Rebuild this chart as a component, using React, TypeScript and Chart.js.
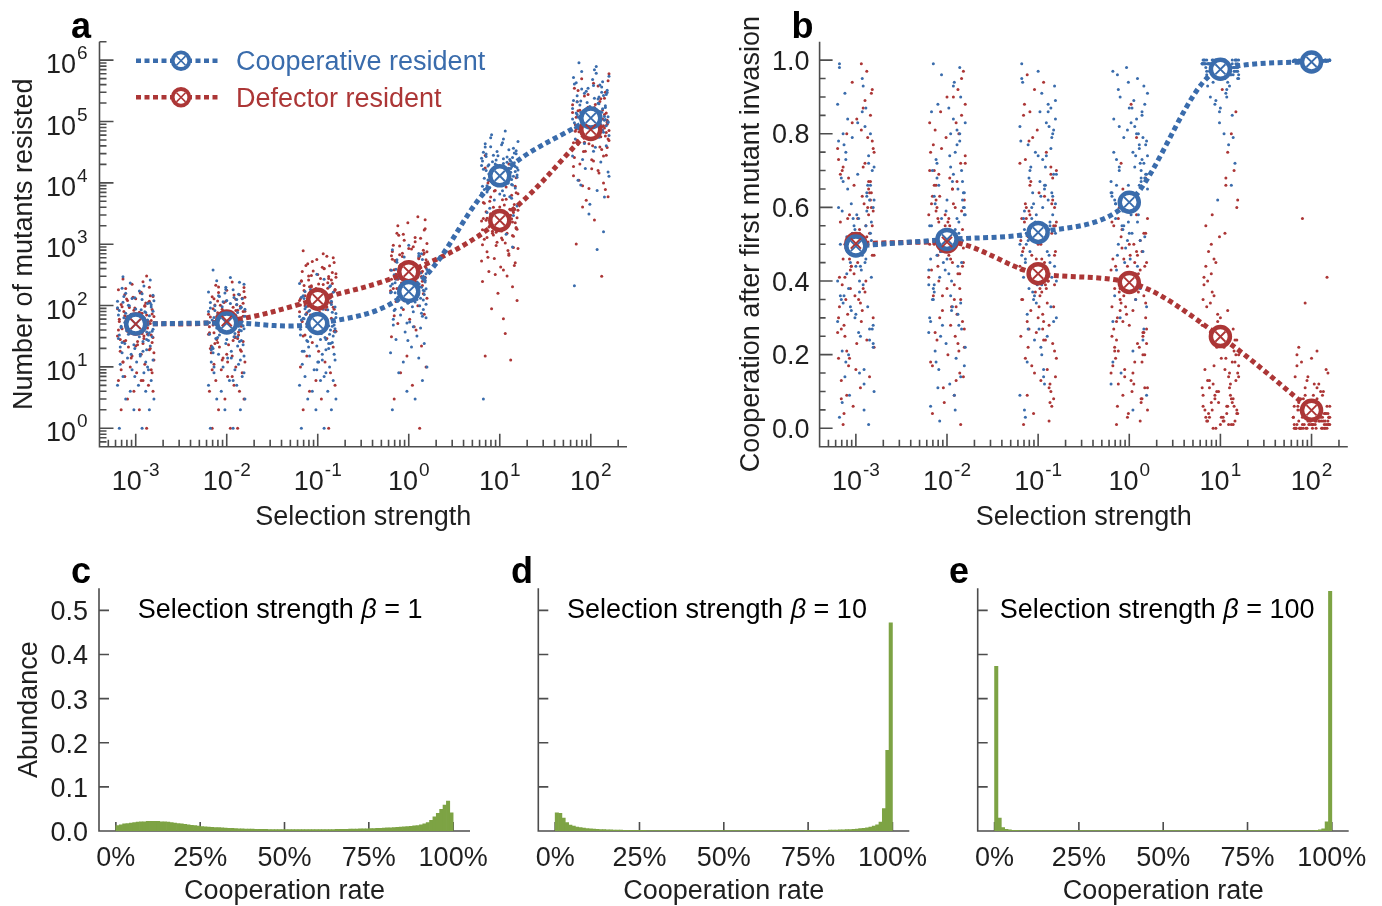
import React, { useEffect, useRef } from 'react';
import { Chart, registerables } from 'chart.js';

Chart.register(...registerables);

const FONT = '"Liberation Sans", Arial, Helvetica, sans-serif';
const BLUE = 'rgb(58,108,172)';
const RED = 'rgb(172,54,54)';
const GREEN = 'rgb(125,163,68)';
const AXIS = '#4d4d4d';
const INK = '#1f1f1f';
const W = 1382;
const H = 906;

// ---------------- data ----------------
const BETA = [0.001, 0.01, 0.1, 1, 10, 100];
const BETA_EXP = ['-3', '-2', '-1', '0', '1', '2'];
const LEGEND_LABELS = ['Cooperative resident', 'Defector resident'];
const A_Y_VALUES = [1, 10, 100, 1000, 10000, 100000, 1000000];
const A_Y_EXP = ['0', '1', '2', '3', '4', '5', '6'];
const B_Y_TICKS = [0, 0.2, 0.4, 0.6, 0.8, 1.0];
const HIST_X_TICKS = [0, 25, 50, 75, 100];
const HIST_Y_TICKS = [0, 0.1, 0.2, 0.3, 0.4, 0.5];
const HIST_BETA = ['1', '10', '100'];

// panel a: mean number of mutants resisted
const A_COOP_MEAN = [50, 52, 51, 169, 13000, 114000];
const A_DEF_MEAN = [50, 56, 127, 357, 2440, 74000];
// panel b: mean cooperation after first mutant invasion
const B_COOP_MEAN = [0.495, 0.513, 0.532, 0.614, 0.975, 0.995];
const B_DEF_MEAN = [0.502, 0.506, 0.42, 0.396, 0.249, 0.049];

// horizontal jitter of the individual runs (decades)
const JIT_COOP = [-0.18, 0.07, -0.02, 0.15, -0.11, 0.2, -0.06, 0.11, -0.2, 0.03, 0.17, -0.14, 0.09, -0.04, 0.13, -0.17, 0.01, 0.19, -0.09, 0.05, -0.15, 0.12, -0.01, 0.16, -0.12, 0.08, -0.19, 0.04, 0.14, -0.07, 0.18, -0.03, 0.1, -0.16, 0.02, 0.2, -0.1, 0.06, -0.13, 0.15, -0.05, 0.11, -0.18, 0.0, 0.17, -0.08, 0.13, -0.2, 0.07, -0.01, 0.19, -0.11, 0.04, -0.15, 0.09, -0.06, 0.16, -0.14, 0.12, -0.03,
  0.05, -0.17, 0.14, -0.08, 0.19, -0.12, 0.02, 0.1, -0.2, 0.16, -0.04, 0.08, -0.15, 0.18, -0.1, 0.03, 0.13, -0.19, 0.06, -0.07, 0.2, -0.13, 0.11, -0.02, 0.15, -0.16, 0.0, 0.09, -0.11, 0.17, -0.05, 0.12, -0.18, 0.04, -0.09, 0.19, -0.14, 0.07, -0.01, 0.14];
const JIT_DEF = [0.12, -0.16, 0.04, -0.09, 0.19, -0.02, 0.14, -0.19, 0.08, -0.12, 0.01, 0.17, -0.06, 0.1, -0.14, 0.2, -0.04, 0.06, -0.17, 0.15, -0.08, 0.02, 0.18, -0.11, 0.09, -0.2, 0.13, -0.03, 0.05, -0.15, 0.11, -0.07, 0.16, -0.18, 0.03, -0.1, 0.2, -0.05, 0.07, -0.13, 0.18, -0.01, 0.1, -0.16, 0.14, -0.09, 0.0, 0.19, -0.12, 0.06, -0.19, 0.15, -0.04, 0.08, -0.14, 0.12, -0.07, 0.17, -0.1, 0.02,
  -0.05, 0.16, -0.13, 0.09, -0.19, 0.03, 0.14, -0.08, 0.18, -0.02, -0.15, 0.11, -0.1, 0.2, 0.0, -0.17, 0.07, 0.13, -0.06, 0.17, -0.12, 0.04, -0.2, 0.1, 0.15, -0.03, -0.14, 0.08, 0.19, -0.09, 0.01, -0.18, 0.12, -0.07, 0.16, 0.05, -0.11, 0.18, -0.16, 0.06];

// panel a: individual runs, cooperative resident (one list per selection strength)
const A_COOP_RUNS: number[][] = [
  [1, 1, 2, 2, 3, 3, 4, 4, 5, 5, 6, 7, 8, 9, 10, 11, 12, 13, 14, 16, 17, 19, 20, 22, 24, 26, 29, 31, 33, 35, 38, 41, 43, 46, 49, 52, 56, 60, 63, 68, 72, 77, 83, 88, 95, 101, 108, 117, 125, 134, 147, 158, 173, 192, 208, 233, 262, 295, 37, 47,
    15, 21, 27, 34, 41, 53, 66, 79, 92, 110, 130, 18, 25, 31, 39, 45, 58, 70, 85, 99, 120, 140, 12, 23, 36, 44, 51, 62, 75, 103, 16, 28, 33, 57, 67, 81, 113, 155, 7, 9],
  [1, 1, 2, 2, 3, 3, 4, 5, 5, 6, 7, 8, 9, 10, 11, 12, 14, 15, 16, 18, 20, 22, 24, 27, 29, 31, 34, 37, 40, 44, 47, 51, 54, 58, 63, 67, 71, 78, 83, 90, 96, 104, 112, 121, 129, 141, 153, 166, 181, 198, 222, 254, 287, 378, 45, 56, 39, 64, 31, 74,
    14, 19, 26, 33, 42, 49, 57, 69, 80, 94, 115, 135, 17, 23, 30, 38, 46, 53, 61, 73, 87, 99, 125, 160, 13, 21, 28, 35, 43, 55, 65, 77, 91, 108, 145, 8, 10, 6, 185, 240],
  [1, 1, 2, 2, 3, 3, 4, 4, 5, 6, 6, 7, 8, 9, 10, 11, 12, 13, 15, 16, 18, 20, 22, 25, 27, 30, 33, 36, 40, 43, 48, 53, 57, 62, 67, 74, 81, 87, 96, 104, 114, 126, 137, 151, 164, 182, 203, 228, 268, 325, 42, 54, 35, 61, 28, 71, 46, 89, 24, 118,
    13, 18, 24, 31, 37, 45, 52, 59, 66, 78, 92, 108, 130, 16, 21, 28, 34, 41, 50, 56, 64, 72, 85, 99, 118, 145, 12, 19, 26, 32, 39, 47, 58, 69, 83, 95, 170, 7, 9, 210],
  [2, 3, 4, 6, 8, 10, 12, 14, 17, 21, 24, 28, 32, 37, 43, 48, 54, 63, 70, 79, 87, 99, 109, 123, 136, 148, 166, 181, 198, 221, 243, 264, 292, 318, 352, 387, 418, 463, 508, 564, 618, 703, 812, 960, 152, 174, 131, 208, 114, 252, 188, 302, 96, 161, 139, 229, 86, 268, 347, 121,
    45, 60, 75, 92, 105, 118, 133, 147, 162, 178, 195, 214, 236, 258, 285, 310, 340, 375, 410, 450, 500, 560, 640, 52, 67, 83, 112, 126, 157, 172, 186, 203, 224, 247, 276, 330, 390, 470, 27, 700],
  [3, 1450, 2250, 2950, 3850, 4450, 5250, 5950, 6850, 7450, 8250, 8950, 9850, 10400, 11300, 11900, 12900, 13400, 14400, 15100, 15900, 17100, 17900, 19200, 19800, 21600, 22800, 24700, 25800, 28200, 29700, 32300, 34800, 38400, 41700, 47300, 54600, 69800, 11100, 12800, 14200, 12400, 16600, 10100, 18400, 22100, 9400, 25200, 15400, 12100, 17600, 8400, 20600, 26800, 13700, 11900, 30800, 7100, 14900, 19400,
    6200, 7800, 9200, 10800, 12300, 13900, 15600, 17300, 19100, 21200, 23500, 26300, 29400, 33500, 38800, 45000, 5600, 8800, 11600, 14700, 16200, 18800, 24100, 27600, 36500, 43500, 6600, 10200, 12700, 15300, 20200, 22600, 31500, 52000, 61000, 4200, 3300, 2600, 1900, 900],
  [210, 820, 3100, 5900, 9200, 12800, 17200, 21800, 27300, 32700, 40400, 46600, 55400, 62700, 72400, 79600, 90500, 99400, 110500, 119600, 130700, 141500, 155800, 169400, 185600, 199300, 221000, 238500, 266000, 288500, 322000, 348000, 392000, 428000, 483000, 547000, 655000, 792000, 905000, 104500, 115800, 124300, 95600, 135400, 85300, 149200, 160800, 109600, 98400, 175600, 119400, 140700, 70200, 209500, 251000, 129300, 107800, 118600, 301000, 60400,
    38000, 52000, 67000, 83000, 96000, 112000, 127000, 145000, 163000, 181000, 205000, 232000, 262000, 297000, 340000, 385000, 445000, 520000, 610000, 44000, 59000, 76000, 89000, 104000, 121000, 138000, 156000, 194000, 215000, 275000, 312000, 365000, 410000, 700000, 24000, 15000, 11000, 7500, 4500, 1600],
];
// panel a: individual runs, defector resident
const A_DEF_RUNS: number[][] = [
  [1, 2, 2, 3, 4, 4, 5, 6, 6, 7, 8, 9, 10, 11, 12, 13, 15, 16, 18, 19, 21, 23, 25, 27, 29, 32, 34, 37, 39, 42, 45, 48, 51, 55, 58, 62, 66, 71, 75, 80, 86, 91, 97, 104, 112, 121, 129, 141, 151, 164, 181, 199, 222, 244, 271, 302, 44, 33, 61, 26,
    14, 20, 26, 32, 40, 47, 55, 63, 73, 84, 96, 110, 128, 17, 22, 28, 35, 43, 50, 57, 68, 78, 89, 100, 117, 136, 12, 24, 30, 38, 53, 60, 70, 93, 145, 160, 190, 8, 9, 6],
  [1, 1, 1, 2, 3, 3, 4, 4, 5, 6, 7, 8, 9, 10, 11, 12, 14, 15, 17, 19, 21, 23, 26, 28, 31, 34, 37, 41, 44, 48, 52, 56, 61, 65, 70, 76, 81, 87, 94, 102, 109, 118, 127, 139, 150, 163, 177, 196, 214, 242, 45, 58, 69, 52, 36, 84, 101, 131, 25, 62,
    13, 18, 24, 30, 36, 43, 50, 58, 67, 77, 89, 103, 119, 137, 16, 22, 27, 33, 40, 47, 55, 63, 72, 83, 97, 112, 129, 148, 170, 200, 12, 20, 29, 38, 46, 54, 66, 80, 9, 7],
  [1, 2, 3, 4, 5, 6, 8, 10, 12, 15, 18, 21, 25, 29, 33, 38, 43, 49, 55, 62, 70, 78, 87, 97, 108, 121, 132, 146, 159, 176, 191, 211, 229, 253, 275, 302, 331, 364, 402, 448, 503, 562, 638, 781, 111, 141, 89, 179, 76, 221, 129, 262, 66, 154, 99, 298, 201, 94, 119, 171,
    45, 58, 72, 86, 102, 118, 135, 152, 170, 190, 212, 236, 262, 290, 322, 358, 398, 445, 520, 600, 50, 65, 79, 95, 112, 128, 145, 162, 182, 202, 225, 248, 277, 310, 345, 420, 480, 38, 32, 700],
  [1, 3, 5, 8, 10, 15, 22, 31, 40, 51, 60, 72, 86, 99, 116, 131, 149, 171, 189, 212, 234, 261, 289, 322, 348, 381, 414, 452, 489, 532, 578, 633, 688, 762, 838, 934, 1030, 1160, 1290, 1510, 1790, 2230, 2790, 382, 298, 452, 331, 558, 268, 423, 648, 362, 478, 241, 521, 402, 309, 718, 441, 339,
    120, 155, 190, 228, 268, 305, 345, 390, 435, 485, 540, 600, 670, 750, 850, 960, 1100, 1250, 1450, 1700, 2000, 140, 175, 210, 248, 287, 325, 368, 412, 462, 512, 570, 635, 710, 800, 905, 1400, 2500, 68, 45],
  [13, 15, 61, 89, 121, 158, 203, 247, 302, 358, 423, 497, 582, 658, 752, 848, 953, 1048, 1205, 1345, 1502, 1648, 1805, 1995, 2204, 2395, 2610, 2845, 3105, 3390, 3710, 3990, 4420, 4790, 5310, 5880, 6620, 7480, 8520, 9950, 12100, 14900, 20300, 27800, 2310, 2490, 2110, 2690, 1910, 2880, 1720, 3290, 1560, 2440, 2660, 3610, 1410, 2240, 3010, 1260,
    320, 450, 610, 790, 980, 1180, 1390, 1620, 1880, 2150, 2450, 2780, 3150, 3560, 4050, 4650, 5400, 6300, 7400, 8800, 10800, 380, 530, 700, 880, 1080, 1290, 1510, 1750, 2010, 2300, 2620, 2960, 3350, 3800, 4350, 5000, 6900, 17500, 35],
  [300, 1010, 2480, 4050, 5950, 8100, 9900, 13100, 15900, 20200, 23800, 28300, 32800, 38300, 42700, 49200, 54800, 62300, 69700, 78400, 85800, 95300, 104700, 115400, 124600, 140300, 154700, 170400, 189600, 210400, 234600, 260300, 301000, 349000, 421000, 498000, 603000, 72300, 79800, 68400, 90300, 60200, 100400, 74700, 85200, 64800, 110300, 51900, 120400, 94800, 45200, 130200, 57900, 77800, 150300, 82400, 70100, 66200, 88300, 40300,
    5200, 7800, 11000, 14500, 18500, 22800, 27500, 32400, 37600, 43200, 49500, 56200, 63400, 71200, 79500, 88600, 98700, 110000, 123000, 137000, 152000, 169000, 188000, 211000, 240000, 275000, 320000, 380000, 460000, 9000, 17000, 26000, 35000, 46000, 58000, 69500, 82000, 97000, 117000, 145000],
];
// panel b: individual runs, cooperative resident
const B_COOP_RUNS: number[][] = [
  [0.03, 0.95, 0.47, 0.62, 0.18, 0.71, 0.33, 0.55, 0.88, 0.26, 0.41, 0.67, 0.12, 0.79, 0.5, 0.36, 0.58, 0.22, 0.84, 0.44, 0.07, 0.64, 0.3, 0.53, 0.91, 0.39, 0.6, 0.15, 0.74, 0.48, 0.27, 0.57, 0.82, 0.35, 0.69, 0.1, 0.52, 0.43, 0.77, 0.24, 0.61, 0.46, 0.98, 0.31, 0.56, 0.2, 0.66, 0.4, 0.86, 0.49, 0.28, 0.73, 0.37, 0.59, 0.05, 0.45, 0.8, 0.34, 0.63, 0.51,
    0.25, 0.5, 0.72, 0.38, 0.6, 0.14, 0.83, 0.45, 0.29, 0.66, 0.53, 0.93, 0.21, 0.7, 0.42, 0.57, 0.33, 0.78, 0.48, 0.09, 0.62, 0.36, 0.87, 0.55, 0.27, 0.68, 0.44, 0.16, 0.75, 0.51, 0.32, 0.59, 0.99, 0.4, 0.65, 0.23, 0.8, 0.47, 0.54, 0.01],
  [0.06, 0.93, 0.51, 0.34, 0.68, 0.22, 0.57, 0.81, 0.43, 0.12, 0.62, 0.37, 0.75, 0.48, 0.28, 0.86, 0.53, 0.17, 0.66, 0.4, 0.99, 0.31, 0.59, 0.45, 0.73, 0.09, 0.55, 0.36, 0.8, 0.25, 0.64, 0.49, 0.19, 0.7, 0.42, 0.58, 0.88, 0.33, 0.61, 0.14, 0.52, 0.77, 0.29, 0.46, 0.67, 0.02, 0.56, 0.39, 0.84, 0.23, 0.6, 0.47, 0.71, 0.35, 0.54, 0.96, 0.27, 0.63, 0.44, 0.5,
    0.32, 0.55, 0.78, 0.41, 0.64, 0.18, 0.87, 0.5, 0.26, 0.7, 0.45, 0.94, 0.38, 0.6, 0.11, 0.74, 0.53, 0.3, 0.67, 0.48, 0.83, 0.21, 0.57, 0.43, 0.9, 0.35, 0.62, 0.05, 0.72, 0.51, 0.28, 0.65, 0.46, 0.8, 0.16, 0.58, 0.39, 0.69, 0.52, 0.98],
  [0.99, 0.12, 0.58, 0.41, 0.77, 0.3, 0.64, 0.88, 0.5, 0.22, 0.69, 0.45, 0.83, 0.36, 0.56, 0.94, 0.27, 0.61, 0.48, 0.73, 0.05, 0.54, 0.39, 0.8, 0.18, 0.66, 0.52, 0.91, 0.33, 0.6, 0.44, 0.75, 0.25, 0.57, 0.86, 0.4, 0.68, 0.14, 0.53, 0.79, 0.35, 0.62, 0.47, 0.97, 0.29, 0.71, 0.55, 0.09, 0.65, 0.42, 0.84, 0.51, 0.2, 0.59, 0.74, 0.37, 0.63, 0.46, 0.82, 0.56,
    0.6, 0.43, 0.76, 0.52, 0.89, 0.31, 0.67, 0.48, 0.82, 0.58, 0.24, 0.71, 0.54, 0.93, 0.38, 0.63, 0.45, 0.78, 0.16, 0.57, 0.69, 0.5, 0.86, 0.34, 0.64, 0.41, 0.74, 0.55, 0.27, 0.81, 0.61, 0.47, 0.95, 0.39, 0.7, 0.53, 0.03, 0.66, 0.44, 0.87],
  [0.97, 0.62, 0.81, 0.48, 0.7, 0.91, 0.55, 0.76, 0.64, 0.87, 0.52, 0.73, 0.95, 0.59, 0.68, 0.84, 0.46, 0.78, 0.61, 0.89, 0.57, 0.72, 0.66, 0.93, 0.5, 0.8, 0.63, 0.75, 0.85, 0.54, 0.69, 0.42, 0.58, 0.36, 0.83, 0.65, 0.3, 0.71, 0.47, 0.24, 0.6, 0.77, 0.18, 0.53, 0.88, 0.4, 0.67, 0.12, 0.74, 0.56, 0.33, 0.82, 0.05, 0.61, 0.44, 0.79, 0.27, 0.66, 0.51, 0.98,
    0.63, 0.75, 0.86, 0.55, 0.69, 0.92, 0.58, 0.8, 0.67, 0.72, 0.49, 0.84, 0.61, 0.77, 0.9, 0.53, 0.7, 0.64, 0.82, 0.59, 0.74, 0.96, 0.66, 0.51, 0.79, 0.62, 0.87, 0.56, 0.71, 0.68, 0.45, 0.38, 0.29, 0.21, 0.15, 0.09, 0.43, 0.35, 0.94, 0.73],
  [0.99, 0.98, 1.0, 0.97, 0.99, 0.96, 1.0, 0.98, 0.99, 0.97, 1.0, 0.99, 0.98, 0.96, 0.99, 1.0, 0.97, 0.98, 0.99, 0.95, 1.0, 0.98, 0.99, 0.97, 0.99, 0.94, 1.0, 0.98, 0.96, 0.99, 0.97, 1.0, 0.93, 0.98, 0.99, 0.95, 0.97, 0.91, 0.99, 0.98, 0.89, 0.96, 1.0, 0.87, 0.98, 0.94, 0.85, 0.99, 0.92, 0.83, 0.97, 0.9, 0.8, 0.96, 0.77, 0.88, 0.72, 0.95, 0.66, 0.62,
    1.0, 0.99, 0.98, 1.0, 0.99, 0.97, 1.0, 0.98, 0.99, 1.0, 0.98, 0.99, 0.97, 1.0, 0.99, 0.98, 1.0, 0.99, 0.96, 0.98, 1.0, 0.99, 0.97, 1.0, 0.98, 0.99, 1.0, 0.98, 0.97, 0.99, 1.0, 0.96, 0.99, 0.98, 1.0, 0.95, 0.93, 0.9, 0.86, 0.79],
  [1.0, 0.998, 0.999, 1.0, 0.997, 0.999, 1.0, 0.998, 0.996, 1.0, 0.999, 0.997, 1.0, 0.998, 0.999, 0.995, 1.0, 0.999, 0.998, 1.0, 0.997, 0.999, 1.0, 0.996, 0.998, 1.0, 0.999, 0.998, 0.997, 1.0, 0.999, 0.998, 1.0, 0.994, 0.999, 1.0, 0.998, 0.997, 1.0, 0.999, 0.996, 1.0, 0.998, 0.999, 1.0, 0.997, 0.999, 0.998, 1.0, 0.995, 0.999, 1.0, 0.998, 0.997, 1.0, 0.999, 0.998, 1.0, 0.996, 0.999,
    0.999, 1.0, 0.998, 0.997, 1.0, 0.999, 0.998, 1.0, 0.996, 0.999, 1.0, 0.998, 0.999, 0.997, 1.0, 0.998, 0.999, 1.0, 0.995, 0.998, 1.0, 0.999, 0.997, 0.998, 1.0, 0.999, 0.996, 1.0, 0.998, 0.999, 1.0, 0.997, 0.999, 0.998, 1.0, 0.999, 0.993, 1.0, 0.998, 0.999],
];
// panel b: individual runs, defector resident
const B_DEF_RUNS: number[][] = [
  [0.97, 0.08, 0.54, 0.31, 0.76, 0.42, 0.65, 0.19, 0.87, 0.5, 0.23, 0.6, 0.38, 0.72, 0.01, 0.47, 0.83, 0.29, 0.56, 0.14, 0.68, 0.45, 0.92, 0.35, 0.61, 0.26, 0.79, 0.52, 0.11, 0.7, 0.4, 0.58, 0.85, 0.33, 0.49, 0.21, 0.75, 0.44, 0.63, 0.04, 0.55, 0.36, 0.89, 0.27, 0.67, 0.48, 0.16, 0.59, 0.41, 0.81, 0.3, 0.53, 0.94, 0.38, 0.71, 0.24, 0.46, 0.64, 0.09, 0.57,
    0.44, 0.62, 0.28, 0.51, 0.73, 0.35, 0.58, 0.17, 0.47, 0.66, 0.39, 0.55, 0.8, 0.22, 0.5, 0.69, 0.32, 0.6, 0.43, 0.91, 0.25, 0.53, 0.76, 0.37, 0.64, 0.06, 0.46, 0.71, 0.3, 0.57, 0.84, 0.41, 0.52, 0.19, 0.67, 0.34, 0.49, 0.78, 0.13, 0.99],
  [0.92, 0.04, 0.46, 0.69, 0.27, 0.58, 0.15, 0.83, 0.39, 0.62, 0.2, 0.54, 0.76, 0.33, 0.5, 0.88, 0.11, 0.65, 0.43, 0.72, 0.3, 0.57, 0.97, 0.24, 0.6, 0.41, 0.8, 0.07, 0.52, 0.36, 0.67, 0.48, 0.85, 0.18, 0.55, 0.44, 0.74, 0.32, 0.61, 0.26, 0.49, 0.79, 0.13, 0.63, 0.38, 0.56, 0.9, 0.22, 0.59, 0.45, 0.7, 0.01, 0.53, 0.35, 0.66, 0.42, 0.86, 0.29, 0.57, 0.47,
    0.36, 0.59, 0.81, 0.25, 0.5, 0.68, 0.42, 0.63, 0.14, 0.55, 0.77, 0.31, 0.47, 0.72, 0.38, 0.61, 0.9, 0.21, 0.53, 0.44, 0.66, 0.28, 0.58, 0.83, 0.35, 0.48, 0.7, 0.09, 0.62, 0.4, 0.56, 0.75, 0.23, 0.51, 0.95, 0.33, 0.6, 0.45, 0.17, 0.65],
  [0.02, 0.85, 0.37, 0.58, 0.14, 0.46, 0.71, 0.25, 0.52, 0.09, 0.64, 0.33, 0.79, 0.41, 0.19, 0.56, 0.92, 0.29, 0.48, 0.06, 0.67, 0.38, 0.6, 0.22, 0.75, 0.44, 0.12, 0.53, 0.31, 0.88, 0.4, 0.17, 0.62, 0.35, 0.5, 0.27, 0.7, 0.04, 0.45, 0.57, 0.21, 0.81, 0.34, 0.49, 0.1, 0.66, 0.3, 0.55, 0.96, 0.24, 0.43, 0.61, 0.15, 0.39, 0.73, 0.28, 0.47, 0.08, 0.59, 0.36,
    0.44, 0.23, 0.6, 0.38, 0.51, 0.13, 0.69, 0.32, 0.47, 0.26, 0.56, 0.4, 0.78, 0.19, 0.5, 0.35, 0.63, 0.07, 0.42, 0.55, 0.29, 0.46, 0.72, 0.16, 0.53, 0.37, 0.61, 0.24, 0.48, 0.86, 0.33, 0.57, 0.11, 0.43, 0.68, 0.27, 0.52, 0.39, 0.01, 0.94],
  [0.02, 0.38, 0.15, 0.52, 0.27, 0.44, 0.08, 0.33, 0.58, 0.21, 0.47, 0.11, 0.36, 0.62, 0.29, 0.05, 0.41, 0.18, 0.55, 0.25, 0.49, 0.13, 0.34, 0.6, 0.23, 0.43, 0.07, 0.31, 0.5, 0.19, 0.39, 0.65, 0.26, 0.46, 0.1, 0.35, 0.57, 0.16, 0.42, 0.3, 0.53, 0.04, 0.37, 0.22, 0.48, 0.72, 0.28, 0.45, 0.12, 0.4, 0.56, 0.2, 0.33, 0.79, 0.24, 0.51, 0.09, 0.44, 0.32, 0.88,
    0.14, 0.36, 0.06, 0.47, 0.25, 0.41, 0.18, 0.54, 0.3, 0.03, 0.44, 0.22, 0.38, 0.11, 0.5, 0.27, 0.35, 0.08, 0.46, 0.2, 0.57, 0.32, 0.15, 0.42, 0.26, 0.39, 0.01, 0.48, 0.23, 0.34, 0.63, 0.17, 0.43, 0.29, 0.53, 0.12, 0.37, 0.68, 0.21, 0.45],
  [0.01, 0.03, 0.02, 0.05, 0.04, 0.07, 0.01, 0.09, 0.06, 0.11, 0.03, 0.13, 0.08, 0.15, 0.02, 0.17, 0.1, 0.19, 0.05, 0.21, 0.12, 0.23, 0.04, 0.26, 0.14, 0.28, 0.07, 0.31, 0.16, 0.33, 0.09, 0.36, 0.18, 0.39, 0.02, 0.42, 0.2, 0.45, 0.06, 0.48, 0.24, 0.52, 0.11, 0.55, 0.27, 0.58, 0.3, 0.62, 0.13, 0.66, 0.35, 0.7, 0.22, 0.75, 0.4, 0.8, 0.17, 0.86, 0.5, 0.92,
    0.0, 0.02, 0.04, 0.01, 0.06, 0.03, 0.08, 0.0, 0.05, 0.1, 0.02, 0.12, 0.07, 0.14, 0.01, 0.16, 0.04, 0.18, 0.09, 0.2, 0.03, 0.22, 0.11, 0.25, 0.06, 0.29, 0.13, 0.32, 0.15, 0.37, 0.19, 0.41, 0.08, 0.46, 0.24, 0.53, 0.34, 0.6, 0.44, 0.68],
  [0.0, 0.01, 0.02, 0.0, 0.03, 0.01, 0.04, 0.0, 0.02, 0.05, 0.01, 0.06, 0.0, 0.03, 0.07, 0.01, 0.02, 0.08, 0.0, 0.04, 0.01, 0.09, 0.02, 0.0, 0.05, 0.03, 0.1, 0.01, 0.0, 0.06, 0.02, 0.11, 0.04, 0.0, 0.12, 0.01, 0.03, 0.13, 0.07, 0.0, 0.15, 0.02, 0.05, 0.17, 0.01, 0.08, 0.19, 0.03, 0.0, 0.21, 0.06, 0.02, 0.14, 0.04, 0.22, 0.09, 0.34, 0.41, 0.57, 0.01,
    0.0, 0.01, 0.0, 0.02, 0.01, 0.03, 0.0, 0.04, 0.01, 0.02, 0.05, 0.0, 0.03, 0.06, 0.01, 0.0, 0.07, 0.02, 0.04, 0.0, 0.08, 0.01, 0.03, 0.1, 0.0, 0.05, 0.02, 0.12, 0.01, 0.06, 0.0, 0.14, 0.03, 0.09, 0.16, 0.02, 0.18, 0.04, 0.2, 0.11],
];

// panels c-e: abundance per 1% cooperation-rate bin (0-1%, 1-2%, ..., 99-100%)
const HIST_C = [
  0.012, 0.014, 0.016, 0.017, 0.018, 0.019, 0.02, 0.021, 0.021, 0.022,
  0.022, 0.022, 0.022, 0.021, 0.021, 0.02, 0.019, 0.018, 0.017, 0.016,
  0.015, 0.014, 0.013, 0.012, 0.011, 0.01, 0.0095, 0.009, 0.0085, 0.008,
  0.0075, 0.007, 0.0066, 0.0062, 0.0058, 0.0055, 0.0052, 0.0049, 0.0046, 0.0044,
  0.0042, 0.004, 0.0038, 0.0037, 0.0036, 0.0035, 0.0034, 0.0033, 0.0032, 0.0032,
  0.0031, 0.0031, 0.003, 0.003, 0.003, 0.003, 0.003, 0.003, 0.0031, 0.0031,
  0.0032, 0.0032, 0.0033, 0.0034, 0.0035, 0.0036, 0.0037, 0.0038, 0.004, 0.0041,
  0.0043, 0.0045, 0.0047, 0.0049, 0.0051, 0.0053, 0.0056, 0.0059, 0.0062, 0.0066,
  0.007, 0.0074, 0.0078, 0.0083, 0.0088, 0.0094, 0.01, 0.0107, 0.0115, 0.0125,
  0.014, 0.016, 0.019, 0.024, 0.032, 0.04, 0.049, 0.059, 0.068, 0.041,
];
const HIST_D = [
  0.041, 0.04, 0.029, 0.019, 0.0135, 0.011, 0.009, 0.0075, 0.0065, 0.0056,
  0.005, 0.0044, 0.0039, 0.0035, 0.0031, 0.0028, 0.0025, 0.0023, 0.0021, 0.0019,
  0.0018, 0.0017, 0.0016, 0.0015, 0.0014, 0.0013, 0.0013, 0.0012, 0.0012, 0.0011,
  0.0011, 0.0011, 0.001, 0.001, 0.001, 0.001, 0.001, 0.001, 0.001, 0.001,
  0.001, 0.001, 0.001, 0.001, 0.001, 0.001, 0.001, 0.001, 0.001, 0.001,
  0.001, 0.001, 0.001, 0.001, 0.001, 0.001, 0.001, 0.001, 0.001, 0.001,
  0.001, 0.001, 0.001, 0.001, 0.001, 0.001, 0.001, 0.001, 0.0011, 0.0011,
  0.0011, 0.0011, 0.0012, 0.0012, 0.0013, 0.0013, 0.0014, 0.0015, 0.0016, 0.0017,
  0.0018, 0.0019, 0.0021, 0.0023, 0.0025, 0.0028, 0.0031, 0.0035, 0.004, 0.0046,
  0.0053, 0.0062, 0.0073, 0.0088, 0.011, 0.014, 0.02, 0.051, 0.183, 0.472,
];
const HIST_E = [
  0.373, 0.029, 0.008, 0.004, 0.0025, 0.0018, 0.0014, 0.0011, 0.0009, 0.0008,
  0.0007, 0.0007, 0.0007, 0.0007, 0.0007, 0.0007, 0.0007, 0.0007, 0.0007, 0.0007,
  0.0007, 0.0007, 0.0007, 0.0007, 0.0007, 0.0007, 0.0007, 0.0007, 0.0007, 0.0007,
  0.0007, 0.0007, 0.0007, 0.0007, 0.0007, 0.0007, 0.0007, 0.0007, 0.0007, 0.0007,
  0.0007, 0.0007, 0.0007, 0.0007, 0.0007, 0.0007, 0.0007, 0.0007, 0.0007, 0.0007,
  0.0007, 0.0007, 0.0007, 0.0007, 0.0007, 0.0007, 0.0007, 0.0007, 0.0007, 0.0007,
  0.0007, 0.0007, 0.0007, 0.0007, 0.0007, 0.0007, 0.0007, 0.0007, 0.0007, 0.0007,
  0.0007, 0.0007, 0.0007, 0.0007, 0.0007, 0.0007, 0.0007, 0.0007, 0.0007, 0.0007,
  0.0007, 0.0007, 0.0007, 0.0007, 0.0007, 0.0007, 0.0007, 0.0007, 0.0007, 0.0007,
  0.0008, 0.0008, 0.0009, 0.001, 0.0012, 0.0015, 0.0025, 0.005, 0.021, 0.543,
];

// ---------------- layout / drawing helpers ----------------
type Area = { left: number; top: number; right: number; bottom: number };
type TickSpec = { v: number; len: number };
type Lbl = { v: number; base: string; sup?: string };
interface DecoCfg {
  xTicks: TickSpec[];
  yTicks: TickSpec[];
  xLabels: Lbl[];
  yLabels: Lbl[];
  xLabelDy: number;
  yLabelGap: number;
  yLabelDy: number;
  xTitle: string;
  xTitleY: number;
  yTitle?: string;
  yTitleX?: number;
  legend?: boolean;
}

const TICK_FONT = 27;
const SUP_FONT = 19;

const padOf = (a: Area) => ({ left: a.left, top: a.top, right: W - a.right, bottom: H - a.bottom });

function logTicks(min: number, max: number, major: number, minor: number): TickSpec[] {
  const out: TickSpec[] = [];
  for (let e = Math.floor(Math.log10(min)); e <= Math.ceil(Math.log10(max)); e++) {
    for (let m = 1; m <= 9; m++) {
      const v = m * Math.pow(10, e);
      if (v >= min * 0.999 && v <= max * 1.001) out.push({ v, len: m === 1 ? major : minor });
    }
  }
  return out;
}

function drawSup(ctx: CanvasRenderingContext2D, x: number, y: number, l: Lbl, align: 'center' | 'right') {
  ctx.font = `${TICK_FONT}px ${FONT}`;
  const w1 = ctx.measureText(l.base).width;
  let w2 = 0;
  if (l.sup) {
    ctx.font = `${SUP_FONT}px ${FONT}`;
    w2 = ctx.measureText(l.sup).width + 1;
  }
  const start = align === 'center' ? x - (w1 + w2) / 2 : x - (w1 + w2);
  ctx.textAlign = 'left';
  ctx.textBaseline = 'alphabetic';
  ctx.font = `${TICK_FONT}px ${FONT}`;
  ctx.fillText(l.base, start, y);
  if (l.sup) {
    ctx.font = `${SUP_FONT}px ${FONT}`;
    ctx.fillText(l.sup, start + w1 + 1, y - 14);
  }
}

function drawMarker(ctx: CanvasRenderingContext2D, x: number, y: number, color: string) {
  ctx.beginPath();
  ctx.arc(x, y, 8.3, 0, Math.PI * 2);
  ctx.fillStyle = '#fff';
  ctx.fill();
  ctx.lineWidth = 3.8;
  ctx.strokeStyle = color;
  ctx.stroke();
  const d = 6.4 * Math.SQRT1_2;
  ctx.beginPath();
  ctx.lineWidth = 1.6;
  ctx.moveTo(x - d, y - d);
  ctx.lineTo(x + d, y + d);
  ctx.moveTo(x + d, y - d);
  ctx.lineTo(x - d, y + d);
  ctx.stroke();
}

function makeDeco(cfg: DecoCfg) {
  return {
    id: 'deco',
    beforeDatasetsDraw(chart: any) {
      const { ctx, chartArea: ca, scales } = chart;
      ctx.save();
      ctx.strokeStyle = AXIS;
      ctx.lineWidth = 1.6;
      ctx.beginPath();
      ctx.moveTo(ca.left, ca.top);
      ctx.lineTo(ca.left, ca.bottom);
      ctx.lineTo(ca.right, ca.bottom);
      for (const t of cfg.xTicks) {
        const p = scales.x.getPixelForValue(t.v);
        ctx.moveTo(p, ca.bottom);
        ctx.lineTo(p, ca.bottom - t.len);
      }
      for (const t of cfg.yTicks) {
        const p = scales.y.getPixelForValue(t.v);
        ctx.moveTo(ca.left, p);
        ctx.lineTo(ca.left + t.len, p);
      }
      ctx.stroke();
      ctx.restore();
    },
    afterDraw(chart: any) {
      const { ctx, chartArea: ca, scales } = chart;
      ctx.save();
      ctx.fillStyle = INK;
      for (const l of cfg.xLabels) drawSup(ctx, scales.x.getPixelForValue(l.v), ca.bottom + cfg.xLabelDy, l, 'center');
      for (const l of cfg.yLabels) drawSup(ctx, ca.left - cfg.yLabelGap, scales.y.getPixelForValue(l.v) + cfg.yLabelDy, l, 'right');
      ctx.font = `27px ${FONT}`;
      ctx.textAlign = 'center';
      ctx.textBaseline = 'alphabetic';
      ctx.fillText(cfg.xTitle, (ca.left + ca.right) / 2, cfg.xTitleY);
      if (cfg.yTitle) {
        ctx.save();
        ctx.translate(cfg.yTitleX as number, (ca.top + ca.bottom) / 2);
        ctx.rotate(-Math.PI / 2);
        ctx.fillText(cfg.yTitle, 0, 0);
        ctx.restore();
      }
      if (cfg.legend) {
        const rows = [
          { y: 60.7, base: 70, color: BLUE, text: LEGEND_LABELS[0] },
          { y: 97.3, base: 106.7, color: RED, text: LEGEND_LABELS[1] },
        ];
        for (const r of rows) {
          ctx.save();
          ctx.strokeStyle = r.color;
          ctx.lineWidth = 4.5;
          ctx.setLineDash([5, 3.5]);
          ctx.beginPath();
          ctx.moveTo(136, r.y);
          ctx.lineTo(220, r.y);
          ctx.stroke();
          ctx.setLineDash([]);
          drawMarker(ctx, 181, r.y, r.color);
          ctx.fillStyle = r.color;
          ctx.font = `27px ${FONT}`;
          ctx.textAlign = 'left';
          ctx.fillText(r.text, 236, r.base);
          ctx.restore();
        }
      }
      ctx.restore();
    },
  };
}

function cloud(runs: number[][], jit: number[], color: string, order: number) {
  const data: { x: number; y: number }[] = [];
  runs.forEach((ys, k) =>
    ys.forEach((y, i) => data.push({ x: BETA[k] * Math.pow(10, jit[i % jit.length]), y }))
  );
  return {
    data,
    showLine: false,
    pointRadius: 1.5,
    pointHoverRadius: 1.5,
    pointBorderWidth: 0,
    pointBackgroundColor: color,
    backgroundColor: color,
    borderColor: color,
    order,
  };
}

function meanSets(means: number[], color: string, orders: [number, number, number], monotone: boolean) {
  const data = means.map((y, i) => ({ x: BETA[i], y }));
  return [
    {
      data,
      showLine: true,
      borderColor: color,
      borderWidth: 5,
      borderDash: [5, 3.5],
      tension: 0.4,
      cubicInterpolationMode: monotone ? 'monotone' : 'default',
      pointRadius: 0,
      fill: false,
      order: orders[0],
    },
    {
      data,
      showLine: false,
      pointStyle: 'circle',
      pointRadius: 9.5,
      pointHoverRadius: 9.5,
      pointBorderWidth: 4.5,
      pointBackgroundColor: '#fff',
      pointBorderColor: color,
      order: orders[1],
    },
    {
      data,
      showLine: false,
      pointStyle: 'crossRot',
      pointRadius: 7.2,
      pointHoverRadius: 7.2,
      pointBorderWidth: 1.9,
      pointBorderColor: color,
      order: orders[2],
    },
  ];
}

const A_AREA: Area = { left: 99.5, top: 41.7, right: 627, bottom: 446.7 };
const B_AREA: Area = { left: 819.6, top: 41.7, right: 1347.8, bottom: 446.7 };
const HIST_AREAS: Area[] = [
  { left: 99, top: 588.3, right: 470, bottom: 831 },
  { left: 538.3, top: 588.3, right: 909.3, bottom: 831 },
  { left: 977.7, top: 588.3, right: 1348.7, bottom: 831 },
];
const HIST_DATA = [HIST_C, HIST_D, HIST_E];

const baseOpts = (area: Area) => ({
  animation: false as const,
  responsive: false,
  maintainAspectRatio: false,
  events: [] as any[],
  layout: { padding: padOf(area) },
  plugins: { legend: { display: false }, tooltip: { enabled: false } },
});

function configA(): any {
  const xLabels = BETA.map((v, i) => ({ v, base: '10', sup: BETA_EXP[i] }));
  const yLabels = A_Y_VALUES.map((v, i) => ({ v, base: '10', sup: A_Y_EXP[i] }));
  return {
    type: 'scatter',
    data: {
      datasets: [
        cloud(A_DEF_RUNS, JIT_DEF, RED, 11),
        cloud(A_COOP_RUNS, JIT_COOP, BLUE, 10),
        ...meanSets(A_DEF_MEAN, RED, [5, 3, 0], false),
        ...meanSets(A_COOP_MEAN, BLUE, [4, 2, 1], false),
      ],
    },
    options: {
      ...baseOpts(A_AREA),
      scales: {
        x: { type: 'logarithmic', min: 4e-4, max: 250, display: false },
        y: { type: 'logarithmic', min: 0.5, max: 2e6, display: false },
      },
    },
    plugins: [
      makeDeco({
        xTicks: logTicks(4e-4, 250, 13, 7),
        yTicks: logTicks(0.5, 2e6, 14, 7),
        xLabels,
        yLabels,
        xLabelDy: 43.3,
        yLabelGap: 12,
        yLabelDy: 13,
        xTitle: 'Selection strength',
        xTitleY: 525,
        yTitle: 'Number of mutants resisted',
        yTitleX: 31.6,
        legend: true,
      }),
    ],
  };
}

function configB(): any {
  const xLabels = BETA.map((v, i) => ({ v, base: '10', sup: BETA_EXP[i] }));
  const yLabels = B_Y_TICKS.map((v) => ({ v, base: v.toFixed(1) }));
  const yTicks: TickSpec[] = [];
  for (let k = 0; k <= 20; k++) yTicks.push({ v: k * 0.05, len: k % 4 === 0 ? 13 : 6 });
  return {
    type: 'scatter',
    data: {
      datasets: [
        cloud(B_DEF_RUNS, JIT_DEF, RED, 11),
        cloud(B_COOP_RUNS, JIT_COOP, BLUE, 10),
        ...meanSets(B_DEF_MEAN, RED, [5, 3, 0], true),
        ...meanSets(B_COOP_MEAN, BLUE, [4, 2, 1], true),
      ],
    },
    options: {
      ...baseOpts(B_AREA),
      scales: {
        x: { type: 'logarithmic', min: 4e-4, max: 250, display: false },
        y: { type: 'linear', min: -0.05, max: 1.05, display: false },
      },
    },
    plugins: [
      makeDeco({
        xTicks: logTicks(4e-4, 250, 13, 7),
        yTicks,
        xLabels,
        yLabels,
        xLabelDy: 43.3,
        yLabelGap: 10,
        yLabelDy: 9.5,
        xTitle: 'Selection strength',
        xTitleY: 525,
        yTitle: 'Cooperation after first mutant invasion',
        yTitleX: 758.8,
      }),
    ],
  };
}

function configHist(idx: number): any {
  const area = HIST_AREAS[idx];
  const values = HIST_DATA[idx];
  return {
    type: 'bar',
    data: {
      datasets: [
        {
          data: values.map((y, i) => ({ x: i + 0.5, y })),
          backgroundColor: GREEN,
          borderWidth: 0,
          barPercentage: 1,
          categoryPercentage: 1,
        },
      ],
    },
    options: {
      ...baseOpts(area),
      scales: {
        x: { type: 'linear', min: -5, max: 105, offset: false, display: false },
        y: { type: 'linear', min: 0, max: 0.55, display: false },
      },
    },
    plugins: [
      makeDeco({
        xTicks: HIST_X_TICKS.map((v) => ({ v, len: 9 })),
        yTicks: HIST_Y_TICKS.map((v) => ({ v, len: 10 })),
        xLabels: HIST_X_TICKS.map((v) => ({ v, base: `${v}%` })),
        yLabels: idx === 0 ? HIST_Y_TICKS.map((v) => ({ v, base: v.toFixed(1) })) : [],
        xLabelDy: 35,
        yLabelGap: 11,
        yLabelDy: 10,
        xTitle: 'Cooperation rate',
        xTitleY: 899.3,
        yTitle: idx === 0 ? 'Abundance' : undefined,
        yTitleX: 37,
      }),
    ],
  };
}

const LETTERS = [
  { t: 'a', left: 71, top: 7.5 },
  { t: 'b', left: 791.5, top: 7.5 },
  { t: 'c', left: 71, top: 552.5 },
  { t: 'd', left: 511, top: 552.5 },
  { t: 'e', left: 949, top: 552.5 },
];
const HIST_TITLE_LEFT = [137.7, 567, 999.7];

export default function App() {
  const r0 = useRef<HTMLCanvasElement>(null);
  const r1 = useRef<HTMLCanvasElement>(null);
  const r2 = useRef<HTMLCanvasElement>(null);
  const r3 = useRef<HTMLCanvasElement>(null);
  const r4 = useRef<HTMLCanvasElement>(null);
  const refs = [r0, r1, r2, r3, r4];

  useEffect(() => {
    const cfgs = [configA(), configB(), configHist(0), configHist(1), configHist(2)];
    const charts = refs.map((r, i) => new Chart(r.current as HTMLCanvasElement, cfgs[i]));
    return () => charts.forEach((c) => c.destroy());
  }, []);

  return (
    <div
      style={{
        position: 'absolute',
        left: 0,
        top: 0,
        width: W,
        height: H,
        background: '#fff',
        overflow: 'hidden',
        fontFamily: FONT,
        color: INK,
      }}
    >
      {refs.map((r, i) => (
        <canvas
          key={i}
          ref={r}
          width={W}
          height={H}
          style={{ position: 'absolute', left: 0, top: 0, width: W, height: H }}
        />
      ))}
      {LETTERS.map((l) => (
        <div
          key={l.t}
          style={{
            position: 'absolute',
            left: l.left,
            top: l.top,
            fontSize: 36,
            lineHeight: '36px',
            fontWeight: 'bold',
            color: '#000',
          }}
        >
          {l.t}
        </div>
      ))}
      {HIST_BETA.map((b, i) => (
        <div
          key={b}
          style={{
            position: 'absolute',
            left: HIST_TITLE_LEFT[i],
            top: 595.5,
            fontSize: 27,
            lineHeight: '27px',
            whiteSpace: 'nowrap',
            color: '#000',
          }}
        >
          Selection strength <i>β</i> = {b}
        </div>
      ))}
    </div>
  );
}
